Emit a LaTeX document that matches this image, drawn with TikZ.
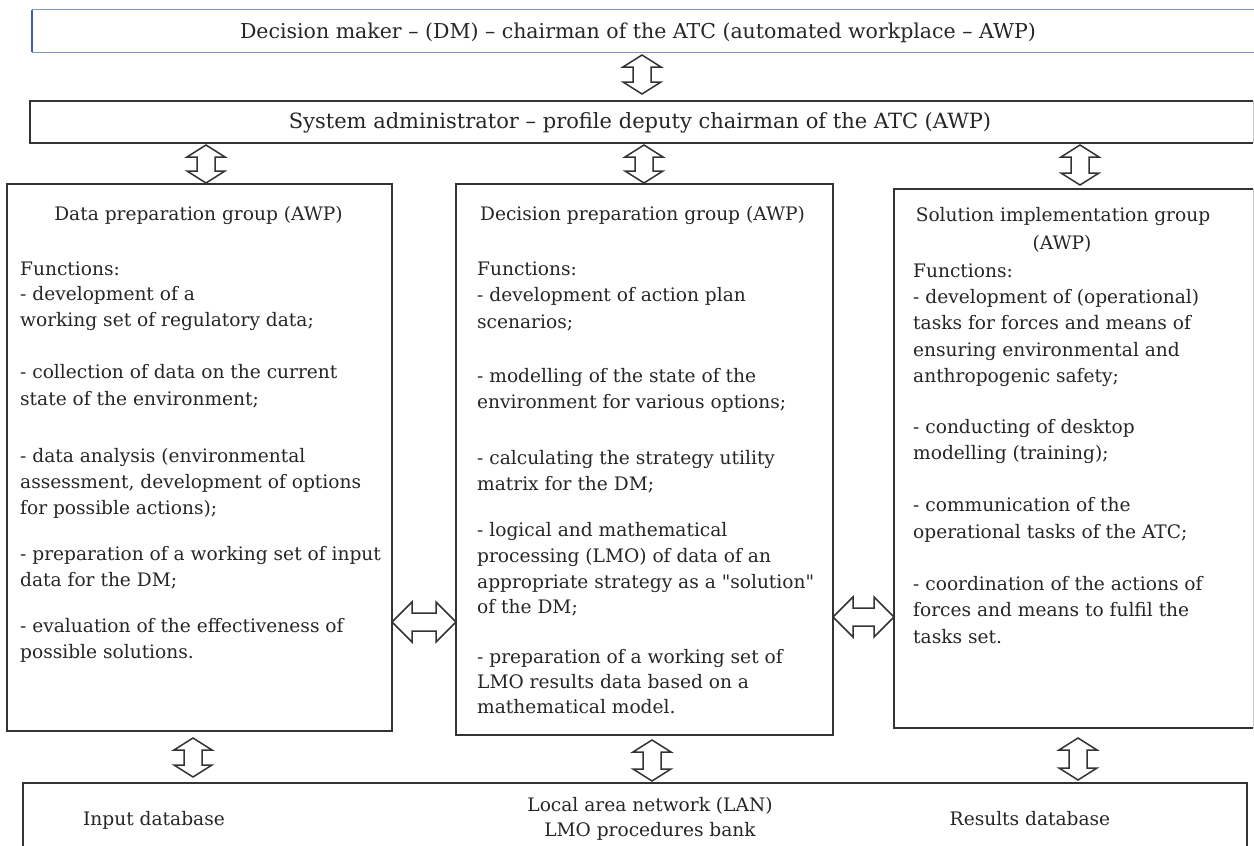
\documentclass[tikz,border=0pt]{standalone}
\usepackage{fontspec}
\setmainfont{DejaVu Serif}
\font\myquotefont="DejaVu Serif" at 18.6pt
\newcommand\sq{{\myquotefont\char34}}
\usetikzlibrary{calc}
\definecolor{ink}{HTML}{262626}
\definecolor{boxline}{HTML}{333333}
\definecolor{edgegray}{HTML}{C8C8C8}
\definecolor{dmblue}{HTML}{3F5FA8}
\definecolor{dmlight}{HTML}{8096C4}
\newcommand\vdarrow[4]{% name, x, ytop, ybottom
  \coordinate (#1a) at (#2,#3); \coordinate (#1b) at (#2,#4);
  \draw[barrow] (#1a) -- ++(19,12) -- ++(-10,0) -- ($(#1b)+(9,-12)$) -- ++(10,0) -- (#1b)
    -- ++(-19,-12) -- ++(10,0) -- ($(#1a)+(-9,12)$) -- ++(-10,0) -- cycle;}
\newcommand\hdarrow[4]{% name, y, xleft, xright
  \coordinate (#1a) at (#3,#2); \coordinate (#1b) at (#4,#2);
  \draw[barrow] (#1a) -- ++(20,-20) -- ++(0,11) -- ($(#1b)+(-20,-9)$) -- ++(0,-11) -- (#1b)
    -- ++(-20,20) -- ++(0,-11) -- ($(#1a)+(20,9)$) -- ++(0,11) -- cycle;}
\begin{document}
\begin{tikzpicture}[x=1pt,y=-1pt,
  txt/.style={font=\fontsize{18.6}{26.5}\selectfont, text=ink, inner sep=0pt, anchor=base west},
  ctr/.style={txt, anchor=base},
  big/.style={ctr, font=\fontsize{20.5}{26}\selectfont},
  bigger/.style={ctr, font=\fontsize{21}{26}\selectfont},
  grp/.style={draw=boxline, line width=1.8pt},
  barrow/.style={draw=boxline, line width=1.5pt, fill=white, line join=miter}]
\useasboundingbox (0,0) rectangle (1254,846);
\fill[white] (0,0) rectangle (1254,846);

% top DM box
\node[inner sep=0pt, minimum width=1230, minimum height=42] (dm) at (647,31) {};
\draw[dmlight, line width=1.3pt] (dm.north west) -- (dm.north east);
\draw[dmlight, line width=1.3pt] (dm.south west) -- (dm.south east);
\draw[dmblue, line width=1.5pt] (dm.north west) -- (dm.south west);
\node[big] (dmt) at (638,38) {Decision maker – (DM) – chairman of the ATC (automated workplace – AWP)};

% system administrator box
\node[inner sep=0pt, minimum width=1223, minimum height=42] (sa) at (641.5,122) {};
\draw[grp] (sa.north east) -- (sa.north west) -- (sa.south west) -- (sa.south east);
\draw[edgegray, line width=1pt] (sa.north east) -- (sa.south east);
\node[bigger] (sat) at (640,128) {System administrator – profile deputy chairman of the ATC (AWP)};

% group boxes
\node[grp, inner sep=0pt, minimum width=385, minimum height=547] (dp) at (199.5,457.5) {};
\node[grp, inner sep=0pt, minimum width=377, minimum height=551] (dc) at (644.5,459.5) {};
\node[inner sep=0pt, minimum width=359, minimum height=539] (si) at (1073.5,458.5) {};
\draw[grp] (si.north east) -- (si.north west) -- (si.south west) -- (si.south east);
\draw[edgegray, line width=1pt] (si.north east) -- (si.south east);

% bottom box
\node[inner sep=0pt, minimum width=1224, minimum height=80] (db) at (635,823) {};
\draw[grp] (db.south west) -- (db.north west) -- (db.north east) -- (db.south east);

% titles
\node[ctr] (dpt) at (198.5,220) {Data preparation group (AWP)};
\node[ctr] (dct) at (642.5,220) {Decision preparation group (AWP)};
\node[ctr] (sit1) at (1063,221) {Solution implementation group};
\node[ctr] (sit2) at (1062,249) {(AWP)};

% left body
\foreach \y/\t [count=\i] in {275/Functions:, 300.5/- development of a, 326/working set of regulatory data;,
  378/- collection of data on the current, 405/state of the environment;,
  462/- data analysis (environmental, 488/{assessment, development of options}, 514.5/for possible actions);,
  560/- preparation of a working set of input, 586.5/data for the DM;,
  632/- evaluation of the effectiveness of, 658.5/possible solutions.}
  \node[txt, name=dpl\i] at (20,\y) {\t};

% middle body
\foreach \y/\t [count=\i] in {275/Functions:, 301/- development of action plan, 328/scenarios;,
  382/- modelling of the state of the, 408/environment for various options;,
  464/- calculating the strategy utility, 490/matrix for the DM;,
  536.5/- logical and mathematical, 562.5/processing (LMO) of data of an,
  588/appropriate strategy as a \sq solution\sq, 613/of the DM;,
  663/- preparation of a working set of, 688/LMO results data based on a, 713/mathematical model.}
  \node[txt, name=dcl\i] at (477,\y) {\t};

% right body
\foreach \y/\t [count=\i] in {277/Functions:, 303/- development of (operational), 329.5/tasks for forces and means of,
  356/ensuring environmental and, 382.5/anthropogenic safety;,
  433/- conducting of desktop, 459.5/modelling (training);,
  511.5/- communication of the, 538/operational tasks of the ATC;,
  590/- coordination of the actions of, 616.5/forces and means to fulfil the, 643/tasks set.}
  \node[txt, name=sil\i] at (913,\y) {\t};

% bottom texts
\node[ctr] (dbin) at (154,825) {Input database};
\node[ctr] (dbres) at (1030,825) {Results database};
\node[ctr] (dblan) at (650,811) {Local area network (LAN)};
\node[ctr] (dblmo) at (650,836) {LMO procedures bank};

% block arrows
\vdarrow{a1}{642}{55}{94}
\vdarrow{a2}{206}{145}{183}
\vdarrow{a3}{644}{145}{183}
\vdarrow{a4}{1080}{145}{185}
\vdarrow{a5}{193}{738}{777}
\vdarrow{a6}{652}{740}{781}
\vdarrow{a7}{1078}{738}{780}
\hdarrow{h1}{622}{392}{456}
\hdarrow{h2}{617}{833}{894}
\end{tikzpicture}
\end{document}
